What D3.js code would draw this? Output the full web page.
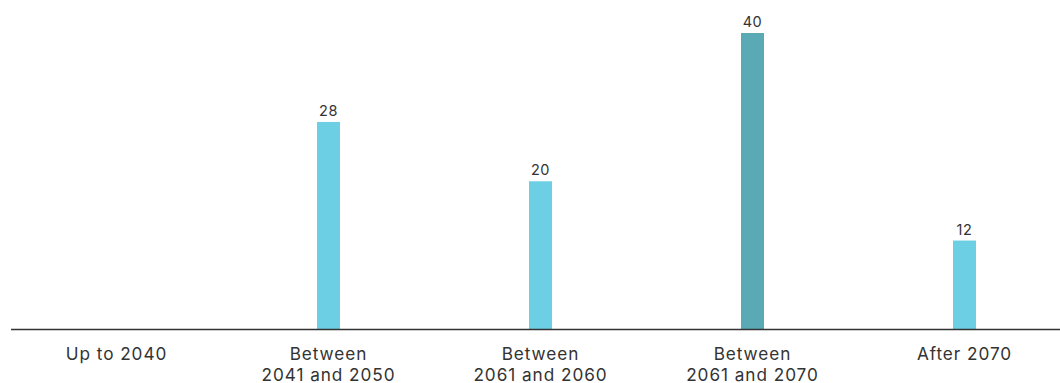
<!DOCTYPE html>
<html>
<head>
<meta charset="utf-8">
<script src="https://cdn.jsdelivr.net/npm/d3@7"></script>
<style>
  html, body { margin: 0; padding: 0; background: #fff; }
  svg { display: block; }
  text { font-family: Inter, "Open Sans", sans-serif; fill: #333; }
</style>
</head>
<body>
<svg id="chart" width="1060" height="383"></svg>
<script>
// Periods and their counts
const categories = [
  ["Up to 2040"],
  ["Between", "2041 and 2050"],
  ["Between", "2061 and 2060"],
  ["Between", "2061 and 2070"],
  ["After 2070"]
];
const values = [0, 28, 20, 40, 12];
const highlight = [false, false, false, true, false];

const rows = values.map((v, i) => ({ i, v, hl: highlight[i] })).filter(d => d.v > 0);

const baseY = 329.5;
const svg = d3.select("#chart");

const x = d3.scaleBand()
  .domain(d3.range(categories.length))
  .range([10.5, 1070.5]);

const y = d3.scaleLinear()
  .domain([0, 40])
  .range([baseY, 33]);

const barW = 23;
const cx = i => x(i) + x.bandwidth() / 2;

// Bars
svg.append("g").selectAll("rect")
  .data(rows)
  .join("rect")
  .attr("x", d => cx(d.i) - barW / 2)
  .attr("y", d => y(d.v))
  .attr("width", barW)
  .attr("height", d => baseY - y(d.v))
  .attr("fill", d => d.hl ? "#5aaab6" : "#6dcfe3");

// Value labels
svg.append("g").selectAll("text")
  .data(rows)
  .join("text")
  .attr("x", d => cx(d.i))
  .attr("y", d => y(d.v) - 6)
  .attr("text-anchor", "middle")
  .attr("font-size", 14.5)
  .attr("letter-spacing", 0.6)
  .text(d => d.v);

// Baseline axis
const axis = d3.axisBottom(x).tickSize(0).tickFormat("");
const gAxis = svg.append("g")
  .attr("transform", `translate(0,${baseY})`)
  .call(axis);
gAxis.select(".domain")
  .attr("d", "M11,0H1060")
  .attr("stroke", "#333")
  .attr("stroke-width", 1.5);

// Category labels
const labels = svg.append("g").selectAll("text")
  .data(categories.map((lines, i) => ({ lines, i })))
  .join("text")
  .attr("x", d => cx(d.i))
  .attr("y", 359.5)
  .attr("text-anchor", "middle")
  .attr("font-size", 17.2)
  .attr("letter-spacing", 0.95);
labels.selectAll("tspan")
  .data(d => d.lines.map(t => ({ t, x: cx(d.i) })))
  .join("tspan")
  .attr("x", d => d.x)
  .attr("dy", (d, j) => j === 0 ? 0 : 21)
  .text(d => d.t);
</script>
</body>
</html>
